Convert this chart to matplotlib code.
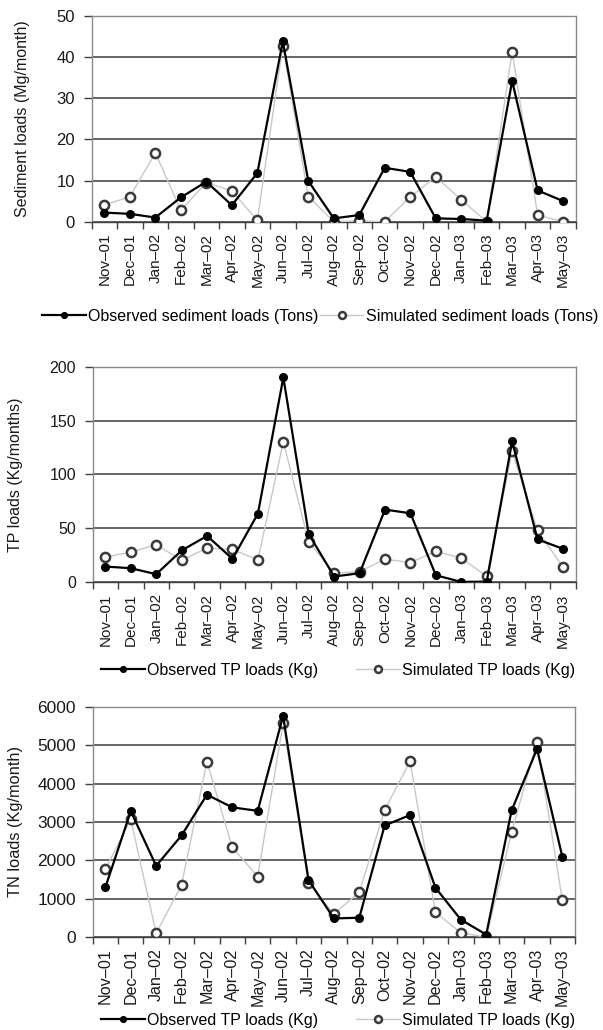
import matplotlib
matplotlib.use("Agg")
import matplotlib.pyplot as plt
import numpy as np

plt.rcParams['font.family'] = ['Liberation Sans', 'DejaVu Sans']

months = ["Nov\u201301", "Dec\u201301", "Jan\u201302", "Feb\u201302", "Mar\u201302", "Apr\u201302",
          "May\u201302", "Jun\u201302", "Jul\u201302", "Aug\u201302", "Sep\u201302", "Oct\u201302",
          "Nov\u201302", "Dec\u201302", "Jan\u201303", "Feb\u201303", "Mar\u201303", "Apr\u201303",
          "May\u201303"]

sed_obs = [2.2, 1.9, 1.0, 5.9, 9.7, 4.0, 11.8, 43.8, 9.9, 0.8, 1.6, 13.1,
           12.1, 0.8, 0.65, 0.25, 34.2, 7.6, 5.0]
sed_sim = [4.0, 6.1, 16.7, 2.75, 9.5, 7.5, 0.3, 42.8, 6.1, 0.0, 0.15, 0.0,
           6.0, 10.9, 5.35, 0.0, 41.3, 1.6, 0.0]

tp_obs = [14.6, 13.0, 7.5, 29.5, 43.0, 21.7, 63.7, 190, 44.7, 5.3, 8.4, 67.4,
          64.0, 6.5, 0.3, 0.6, 130.7, 39.8, 31.0]
tp_sim = [23.3, 28.0, 34.8, 20.5, 31.7, 30.4, 20.8, 130.4, 37.3, 8.4, 9.9, 21.4,
          18.3, 28.6, 22.4, 5.6, 121.4, 48.1, 14.0]

tn_obs = [1300, 3280, 1860, 2650, 3710, 3380, 3290, 5760, 1490, 490, 510, 2910,
          3180, 1290, 460, 70, 3300, 4900, 2090]
tn_sim = [1770, 3070, 100, 1360, 4570, 2340, 1580, 5570, 1410, 610, 1170, 3310,
          4580, 650, 120, 0, 2740, 5090, 960]

panels = [
    (sed_obs, sed_sim, "Sediment loads (Mg/month)", 50, 10,
     "Observed sediment loads (Tons)", "Simulated sediment loads (Tons)"),
    (tp_obs, tp_sim, "TP loads (Kg/months)", 200, 50,
     "Observed TP loads (Kg)", "Simulated TP loads (Kg)"),
    (tn_obs, tn_sim, "TN loads (Kg/month)", 6000, 1000,
     "Observed TP loads (Kg)", "Simulated TP loads (Kg)"),
]

# axes rectangles (figure fraction) and legend placement
rects = [[0.152, 0.7848, 0.803, 0.1997],
         [0.1537, 0.4347, 0.801, 0.2093],
         [0.1537, 0.0900, 0.800, 0.2239]]
label_x = [-0.127, -0.144, -0.144]
leg_pos = [(0.531, 0.693), (0.561, 0.3495), (0.561, 0.0095)]
col_space = [0.1, 2.4, 2.4]
xtick_size = [11, 11, 11.6]
ytick_size = [12, 11.5, 12.5]
ylab_size = [11.5, 11.5, 11.8]

fig = plt.figure(figsize=(6.03, 10.30), dpi=100)
x = np.arange(len(months))

for i, (obs, sim, ylab, ymax, ystep, lobs, lsim) in enumerate(panels):
    ax = fig.add_axes(rects[i])
    hs, = ax.plot(x, sim, color='#c8c8c8', lw=1.0, marker='o', ms=6.6,
                  mfc='white', mec='#3a3a3a', mew=1.8, zorder=3)
    ho, = ax.plot(x, obs, color='black', lw=1.6, marker='o', ms=5.5,
                  mfc='black', mec='black', zorder=4)
    ax.set_xlim(-0.5, len(months) - 0.5)
    ax.set_ylim(0, ymax)
    ax.set_yticks(np.arange(0, ymax + ystep / 2, ystep))
    ax.yaxis.grid(True, color='#3c3c3c', lw=1.1)
    ax.set_axisbelow(True)
    ax.set_xticks(x)
    ax.set_xticklabels(months, rotation=90, fontsize=xtick_size[i], color='#1a1a1a')
    ax.set_xticks(np.arange(-0.5, len(months), 1.0), minor=True)
    ax.tick_params(axis='x', which='major', length=0, pad=8)
    ax.tick_params(axis='x', which='minor', length=5, width=1.0, color='#404040')
    ax.tick_params(axis='y', length=6, width=1.0, color='#404040', pad=6,
                   labelsize=ytick_size[i], labelcolor='#1a1a1a')
    for s in ['top', 'right', 'left']:
        ax.spines[s].set_color('#8a8a8a')
        ax.spines[s].set_linewidth(1.0)
    ax.spines['bottom'].set_color('#404040')
    ax.spines['bottom'].set_linewidth(1.0)
    ax.set_ylabel(ylab, fontsize=ylab_size[i], color='#1a1a1a')
    ax.yaxis.set_label_coords(label_x[i], 0.5)

    fig.legend([ho, hs], [lobs, lsim], loc='center', bbox_to_anchor=leg_pos[i],
               ncol=2, frameon=False, fontsize=11.5, handlelength=2.7,
               handletextpad=0.15, columnspacing=col_space[i], markerscale=0.75,
               borderpad=0, borderaxespad=0)

fig.savefig("out.png", dpi=100, facecolor='white')
